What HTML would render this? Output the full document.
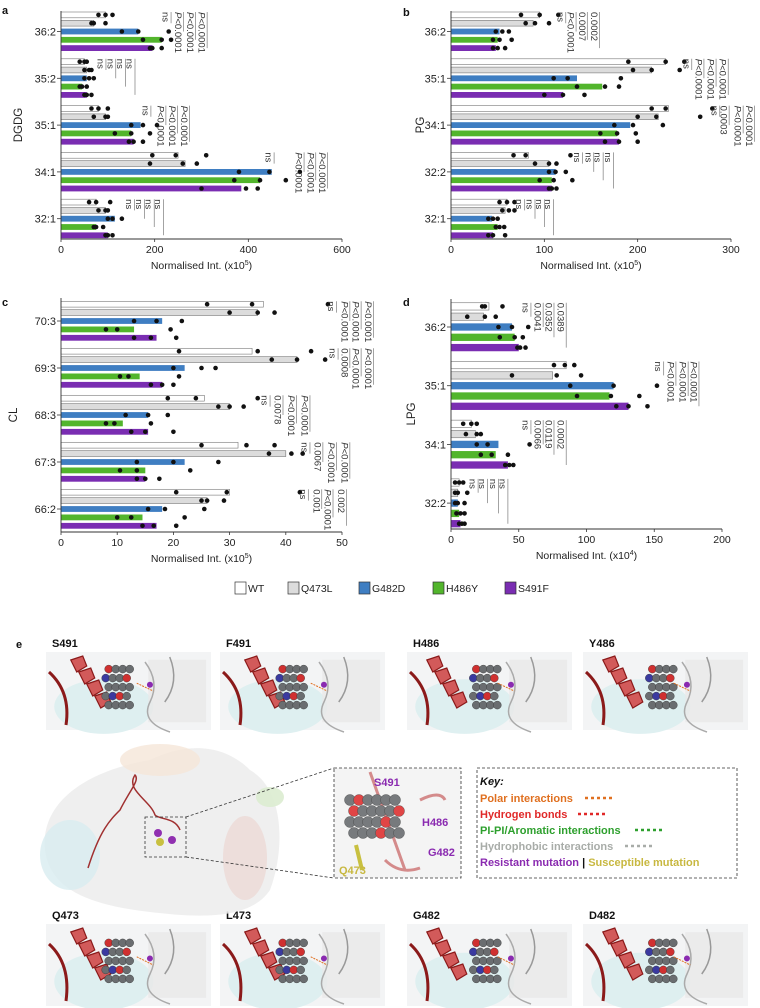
<!DOCTYPE html>
<html><head><meta charset="utf-8"><style>
html,body{margin:0;padding:0;background:#fff;}
svg{display:block;font-family:"Liberation Sans",Arial,sans-serif;}
.k{font-family:"Liberation Sans Narrow","Liberation Sans",sans-serif;font-weight:bold;font-size:11px;}
</style></head><body>
<svg id="fig" width="760" height="1008" viewBox="0 0 760 1008" xmlns="http://www.w3.org/2000/svg">
<g id="charts"></g>
<g id="legend"></g>
<g id="panelE"></g>
</svg>
<script>
// ---------- Panel a: DGDG ----------
const aCats = ["36:2","35:2","35:1","34:1","32:1"];
const aWT = [95,50,80,250,75];
const aQ = [70,55,95,265,95];
const aG = [165,55,170,450,115];
const aH = [215,45,150,425,75];
const aS = [195,55,155,385,100];
const aTicks = [0,200,400,600];
const aDotsWT = [[80,95,110],[40,50,55],[65,80,100],[195,245,310],[60,75,105]];
const aDotsQ = [[65,70,95],[50,60,65],[70,95,100],[190,260,290],[80,95,100]];
const aDotsG = [[130,165,230],[50,60,70],[150,175,205],[380,445,510],[100,110,130]];
const aDotsH = [[175,215,235],[40,45,55],[115,150,190],[370,425,480],[70,75,90]];
const aDotsS = [[190,195,215],[50,55,65],[145,155,175],[300,395,420],[95,100,110]];
const aAnnLabels = [["ns","P<0.0001","P<0.0001","P<0.0001"],["ns","ns","ns","ns"],["ns","P<0.0001","P<0.0001","P<0.0001"],["ns","P<0.0001","P<0.0001","P<0.0001"],["ns","ns","ns","ns"]];
const aAnnX = [[235,262,287,312],[96,117,138,158],[192,224,249,274],[455,519,544,569],[157,178,199,219]];

// ---------- Panel b: PG ----------
const bCats = ["36:2","35:1","34:1","32:2","32:1"];
const bWT = [95,230,233,83,60];
const bQ = [88,215,222,105,58];
const bG = [52,135,192,112,44];
const bH = [50,162,178,108,50];
const bS = [48,120,180,108,45];
const bTicks = [0,100,200,300];
const bDotsWT = [[75,95,115],[190,230,250],[215,230,280],[67,80,128],[52,60,68]];
const bDotsQ = [[80,90,105],[195,215,245],[200,220,267],[90,105,113],[55,62,68]];
const bDotsG = [[48,55,62],[110,125,182],[175,195,227],[105,112,123],[40,45,50]];
const bDotsH = [[45,52,65],[135,165,180],[160,178,198],[95,110,130],[48,52,57]];
const bDotsS = [[45,50,58],[100,120,143],[165,180,200],[105,108,113],[40,45,58]];
const bAnnLabels = [["ns","P<0.0001","0.0007","0.0002"],["ns","P<0.0001","P<0.0001","P<0.0001"],["ns","0.0003","P<0.0001","P<0.0001"],["ns","ns","ns","ns"],["ns","ns","ns","ns"]];
const bAnnX = [[123,134,146,159],[258,271,284,297],[288,298,313,325],[141,153,163,174],[79,90,100,110]];

// ---------- Panel c: CL ----------
const cCats = ["70:3","69:3","68:3","67:3","66:2"];
const cWT = [36,34,25.5,31.5,30];
const cQ = [35,42,30,40,26];
const cG = [18,22,15.5,22,18];
const cH = [13,14,11,15,14.5];
const cS = [17,18,15.5,15,17];
const cTicks = [0,10,20,30,40,50];
const cDotsWT = [[26,34,47.5],[21,35,44.5],[19,24,35],[25,33,38],[20.5,29.5,42.5]];
const cDotsQ = [[30,35,38],[37.5,42,47],[28,30,32.5],[37,41,43],[25,26,29]];
const cDotsG = [[13,17,21.5],[20,25,27.5],[11.5,15.5,19],[13.5,20,28],[15.5,18.5,25.5]];
const cDotsH = [[8,10,19.5],[10.5,12,21],[8,9.5,16],[10.5,13.5,23],[10,12.5,22]];
const cDotsS = [[13,16,20.5],[16,18,20],[12.5,15,20],[13.5,15,17.5],[14.5,16.5,20.5]];
const cAnnLabels = [["ns","P<0.0001","P<0.0001","P<0.0001"],["ns","0.0008","P<0.0001","P<0.0001"],["ns","0.0078","P<0.0001","P<0.0001"],["ns","0.0067","P<0.0001","P<0.0001"],["ns","0.001","P<0.0001","0.002"]];
const cAnnX = [[49,51.4,53.4,55.6],[49.3,51.4,53.4,55.6],[37.2,39.5,41.9,44.3],[44.3,46.6,49,51.4],[44,46.4,48.4,50.8]];

// ---------- Panel d: LPG ----------
const dCats = ["36:2","35:1","34:1","32:2"];
const dWT = [28,85,15,6];
const dQ = [24,75,18,5];
const dG = [45,120,35,5];
const dH = [47,117,33,6];
const dS = [50,131,42,7];
const dTicks = [0,50,100,150,200];
const dDotsWT = [[23,25,38],[76,84,91],[9,15,19],[3,6,9]];
const dDotsQ = [[12,25,33],[45,78,96],[11,19,22],[3,5,12]];
const dDotsG = [[35,45,57],[88,120,152],[19,27,58],[3,5,10]];
const dDotsH = [[36,47,53],[93,118,139],[22,30,42],[4,7,10]];
const dDotsS = [[49,51,55],[122,131,145],[40,43,46],[6,8,10]];
const dAnnLabels = [["ns","0.0041","0.0352","0.0389"],["ns","P<0.0001","P<0.0001","P<0.0001"],["ns","0.0066","0.0119","0.0002"],["ns","ns","ns","ns"]];
const dAnnX = [[59,68,76,85],[157,166,175,183],[59,68,76,85],[20,27,35,42]];

const seriesNames = ["WT","Q473L","G482D","H486Y","S491F"];
const seriesFill = ["#ffffff","#dcdcdc","#3f7ec2","#52b52c","#7a2db2"];

const NS="http://www.w3.org/2000/svg";
function mk(tag,attrs,parent){const e=document.createElementNS(NS,tag);for(const k in attrs)e.setAttribute(k,attrs[k]);parent.appendChild(e);return e;}

function drawPanel(p){
  const root=document.getElementById('charts');
  const g=mk('g',{},root);
  
  
  const max=p.ticks[p.ticks.length-1];
  const sx=v=>p.x0+(p.x1-p.x0)*v/max;
  const n=p.cats.length;
  const cy=i=>p.firstC+i*p.gap;
  const series=[p.wt,p.q,p.gg,p.h,p.s];
  const dots=[p.dwt,p.dq,p.dg,p.dh,p.ds];
  for(let i=0;i<n;i++){
    for(let j=0;j<5;j++){
      const yc=cy(i)+(j-2)*p.pitch;
      const r=mk('rect',{x:sx(0),y:yc-p.bh/2,width:sx(series[j][i])-sx(0),height:p.bh,fill:seriesFill[j],stroke:j<2?'#777':'none','stroke-width':0.6},g);
      
      
      for(const v of dots[j][i]){
        const c=mk('circle',{cx:sx(v),cy:yc,r:2.3,fill:'#111'},g);
        
        
      }
    }
    const top=cy(i)-2*p.pitch-p.bh/2;
    for(let k=0;k<4;k++){
      const x=sx(p.annX[i][k]);
      const yEnd=cy(i)+(k-1)*p.pitch;
      mk('line',{x1:x,y1:top,x2:x,y2:yEnd,stroke:'#666','stroke-width':0.6},g);
      const lab=p.annLabels[i][k];
      const bx=x-8.5;
      const t=mk('text',{x:bx,y:top,transform:`rotate(90 ${bx} ${top})`,'font-size':9.5,fill:'#333'},g);
      
      
      if(lab.startsWith('P')){const ts=mk('tspan',{'font-style':'italic'},t);ts.textContent='P';const r2=document.createElementNS(NS,'tspan');r2.textContent=lab.slice(1);t.appendChild(r2);}
      else t.textContent=lab;
    }
    mk('line',{x1:p.x0-4,y1:cy(i),x2:p.x0,y2:cy(i),stroke:'#333','stroke-width':0.8},g);
    const yl=mk('text',{x:p.x0-5,y:cy(i)+4,'text-anchor':'end','font-size':11,fill:'#222'},g);
    yl.textContent=p.cats[i];
    
    
  }
  mk('line',{x1:p.x0,y1:p.yTop,x2:p.x0,y2:p.yBot,stroke:'#333','stroke-width':0.9},g);
  mk('line',{x1:p.x0,y1:p.yBot,x2:p.x1,y2:p.yBot,stroke:'#333','stroke-width':0.9},g);
  for(const t of p.ticks){
    mk('line',{x1:sx(t),y1:p.yBot,x2:sx(t),y2:p.yBot+3,stroke:'#333','stroke-width':0.8},g);
    const tl=mk('text',{x:sx(t),y:p.yBot+14,'text-anchor':'middle','font-size':10.5,fill:'#222'},g);
    tl.textContent=t;
    
    
  }
  const xt=mk('text',{x:(p.x0+p.x1)/2,y:p.yBot+30,'text-anchor':'middle','font-size':10.5,fill:'#222'},g);
  xt.textContent='Normalised Int. (x10';
  const sup=mk('tspan',{'font-size':7,dy:-4},xt);sup.textContent=p.exp;
  const cl=mk('tspan',{dy:4},xt);cl.textContent=')';
  
  
  const yt=mk('text',{x:p.ytx,y:(p.yTop+p.yBot)/2,transform:`rotate(-90 ${p.ytx} ${(p.yTop+p.yBot)/2})`,'text-anchor':'middle','font-size':11.5,fill:'#222'},g);
  yt.textContent=p.title;
  
  
  const pl=mk('text',{x:p.lx,y:p.ly,'font-size':11,'font-weight':'bold',fill:'#111'},g);
  pl.textContent=p.id;
  
  
}

drawPanel({id:'a',title:'DGDG',cats:aCats,wt:aWT,q:aQ,gg:aG,h:aH,s:aS,dwt:aDotsWT,dq:aDotsQ,dg:aDotsG,dh:aDotsH,ds:aDotsS,ticks:aTicks,annLabels:aAnnLabels,annX:aAnnX,exp:'5',
  x0:61,x1:342,yTop:11,yBot:239,firstC:31.5,gap:46.8,pitch:8.3,bh:5.8,ytx:22,lx:2,ly:14});
drawPanel({id:'b',title:'PG',cats:bCats,wt:bWT,q:bQ,gg:bG,h:bH,s:bS,dwt:bDotsWT,dq:bDotsQ,dg:bDotsG,dh:bDotsH,ds:bDotsS,ticks:bTicks,annLabels:bAnnLabels,annX:bAnnX,exp:'5',
  x0:451,x1:731,yTop:11,yBot:239,firstC:31.5,gap:46.8,pitch:8.3,bh:5.8,ytx:424,lx:403,ly:16});
drawPanel({id:'c',title:'CL',cats:cCats,wt:cWT,q:cQ,gg:cG,h:cH,s:cS,dwt:cDotsWT,dq:cDotsQ,dg:cDotsG,dh:cDotsH,ds:cDotsS,ticks:cTicks,annLabels:cAnnLabels,annX:cAnnX,exp:'5',
  x0:61,x1:342,yTop:298,yBot:532,firstC:321,gap:47,pitch:8.4,bh:5.8,ytx:17,lx:2,ly:306});
drawPanel({id:'d',title:'LPG',cats:dCats,wt:dWT,q:dQ,gg:dG,h:dH,s:dS,dwt:dDotsWT,dq:dDotsQ,dg:dDotsG,dh:dDotsH,ds:dDotsS,ticks:dTicks,annLabels:dAnnLabels,annX:dAnnX,exp:'4',
  x0:451,x1:722,yTop:299,yBot:529,firstC:327,gap:58.7,pitch:10.3,bh:7.3,ytx:415,lx:403,ly:306});

(function(){
  const L=document.getElementById('legend');
  const xs=[235,288,359,433,505];
  for(let j=0;j<5;j++){
    const r=mk('rect',{x:xs[j],y:582,width:11,height:12,fill:seriesFill[j],stroke:'#333','stroke-width':0.7},L);
    
    
    const t=mk('text',{x:xs[j]+13,y:592,'font-size':10.5,fill:'#222'},L);
    t.textContent=seriesNames[j];
    
    
  }
})();

(function(){
  const E=document.getElementById('panelE');
  const lbl=(x,y,s,fill,size)=>{const t=mk('text',{x:x,y:y,class:'k',fill:fill||'#111','font-size':size||11},E);t.textContent=s;return t;};
  lbl(16,648,'e','#111',11);
  function thumb(x,y,w,h,mode){
    const g=mk('g',{},E);
    
    
    mk('rect',{x:x,y:y,width:w,height:h,fill:'#f3f4f5'},g);
    mk('ellipse',{cx:x+w*0.35,cy:y+h*0.7,rx:w*0.3,ry:h*0.35,fill:'#dceef0',opacity:0.9},g);
    mk('rect',{x:x+w*0.62,y:y+h*0.1,width:w*0.35,height:h*0.8,fill:'#e8e8e8',opacity:0.8},g);
    const redX = mode===0? x+w*0.15 : x+w*0.12;
    for(let i=0;i<4;i++){
      mk('polygon',{points:`${redX+i*8},${y+8+i*12} ${redX+12+i*8},${y+4+i*12} ${redX+16+i*8},${y+14+i*12} ${redX+6+i*8},${y+20+i*12}`,fill:'#d25a5a',stroke:'#8b1a1a','stroke-width':1.2},g);
    }
    mk('path',{d:`M${x+3},${y+20} Q${x+25},${y+40} ${x+20},${y+h-5}`,stroke:'#8b1a1a','stroke-width':3,fill:'none'},g);
    const cx0=x+w*(mode===0?0.38:0.42), cy0=y+h*0.45;
    for(let r=0;r<5;r++)for(let c=0;c<4;c++){
      const col=(r*4+c)%7===0?'#d03030':((r*4+c)%9===4?'#3a3aa0':'#6a6d70');
      mk('circle',{cx:cx0+c*7-(r%2)*3,cy:cy0-18+r*9,r:4,fill:col,stroke:'#333','stroke-width':0.4},g);
    }
    mk('path',{d:`M${x+w*0.6},${y+10} q15,20 5,40 q-10,20 20,30`,stroke:'#aaa','stroke-width':1.5,fill:'none'},g);
    mk('path',{d:`M${x+w*0.75},${y+5} q10,25 -5,45`,stroke:'#999','stroke-width':1.5,fill:'none'},g);
    mk('line',{x1:x+w*0.55,y1:y+h*0.4,x2:x+w*0.65,y2:y+h*0.5,stroke:'#e07020','stroke-width':1,'stroke-dasharray':'2 1'},g);
    mk('circle',{cx:x+w*0.63,cy:y+h*0.42,r:3,fill:'#8a2ab0'},g);
  }
  const topX=[46,220,407,583], topL=['S491','F491','H486','Y486'];
  const botL=['Q473','L473','G482','D482'];
  for(let i=0;i<4;i++){
    lbl(topX[i]+6,647,topL[i]);
    thumb(topX[i],652,165,78,i<2?0:1);
    lbl(topX[i]+6,919,botL[i]);
    thumb(topX[i],924,165,82,i<2?0:1);
  }
  const pg=mk('g',{},E);
  
  
  mk('path',{d:'M45,850 C40,800 90,770 150,760 C180,745 220,740 250,770 C285,790 285,850 270,890 C250,920 200,918 150,912 C90,905 50,890 45,850Z',fill:'#ececec',opacity:0.85},pg);
  mk('ellipse',{cx:70,cy:855,rx:30,ry:35,fill:'#d8ecf0',opacity:0.8},pg);
  mk('ellipse',{cx:160,cy:760,rx:40,ry:16,fill:'#f5e6d8',opacity:0.8},pg);
  mk('ellipse',{cx:245,cy:858,rx:22,ry:42,fill:'#ecdcd8',opacity:0.9},pg);
  mk('ellipse',{cx:270,cy:797,rx:14,ry:10,fill:'#dcecd0',opacity:0.9},pg);
  mk('path',{d:'M88,868 C100,830 110,820 120,810 C130,790 140,780 135,775 C125,790 150,800 155,815 C160,820 175,817 180,830',stroke:'#a03030','stroke-width':1.5,fill:'none'},pg);
  mk('circle',{cx:158,cy:833,r:4,fill:'#9030b0'},pg);
  mk('circle',{cx:172,cy:840,r:4,fill:'#9030b0'},pg);
  mk('circle',{cx:160,cy:842,r:4,fill:'#c8c040'},pg);
  mk('rect',{x:145,y:817,width:41,height:40,fill:'none',stroke:'#333','stroke-width':0.8,'stroke-dasharray':'3 2'},pg);
  mk('line',{x1:186,y1:817,x2:334,y2:768,stroke:'#333','stroke-width':0.8,'stroke-dasharray':'3 2'},pg);
  mk('line',{x1:186,y1:857,x2:334,y2:878,stroke:'#333','stroke-width':0.8,'stroke-dasharray':'3 2'},pg);
  const ig=mk('g',{},E);
  
  
  mk('rect',{x:334,y:768,width:127,height:110,fill:'#f4f4f4',stroke:'#333','stroke-width':0.8,'stroke-dasharray':'3 2'},ig);
  mk('path',{d:'M370,772 L405,870 M420,800 Q440,790 445,800 M385,860 Q400,875 420,868',stroke:'#cc7070','stroke-width':3,fill:'none',opacity:0.8},ig);
  for(let r=0;r<4;r++)for(let c=0;c<6;c++){
    const col=(r*6+c)%5===1?'#e04545':'#777a7d';
    mk('circle',{cx:350+c*9+(r%2)*4,cy:800+r*11,r:5.5,fill:col,stroke:'#444','stroke-width':0.4},ig);
  }
  mk('path',{d:'M356,845 L362,870',stroke:'#c8c040','stroke-width':4},ig);
  const il=(x,y,s,f)=>{const t=mk('text',{x:x,y:y,class:'k',fill:f,'font-size':11},ig);t.textContent=s;};
  il(374,786,'S491','#8a2ab0');il(422,826,'H486','#8a2ab0');il(428,856,'G482','#8a2ab0');il(339,874,'Q473','#c8b840');
  const kg=mk('g',{},E);
  
  
  mk('rect',{x:477,y:768,width:260,height:110,fill:'#fff',stroke:'#333','stroke-width':0.8,'stroke-dasharray':'3 2'},kg);
  const kt=(y,s,f,dash,dx)=>{const t=mk('text',{x:480,y:y,class:'k',fill:f},kg);t.textContent=s;
    if(dash){mk('line',{x1:480+dx,y1:y-4,x2:480+dx+28,y2:y-4,stroke:dash,'stroke-width':2.5,'stroke-dasharray':'3 3'},kg);} return t;};
  const k0=kt(785,'Key:','#111');k0.setAttribute('font-style','italic');
  kt(802,'Polar interactions','#e07020','#e07020',105);
  kt(818,'Hydrogen bonds','#e02828','#e02828',98);
  kt(834,'PI-PI/Aromatic interactions','#2ea02e','#2ea02e',155);
  kt(850,'Hydrophobic interactions','#a8aca8','#a8aca8',145);
  const rt=mk('text',{x:480,y:866,class:'k',fill:'#8a2ab0'},kg);
  
  
  rt.textContent='Resistant mutation ';
  const b1=mk('tspan',{fill:'#111'},rt);b1.textContent='| ';
  const b2=mk('tspan',{fill:'#c8b840'},rt);b2.textContent='Susceptible mutation';
})();
</script>
</body></html>
